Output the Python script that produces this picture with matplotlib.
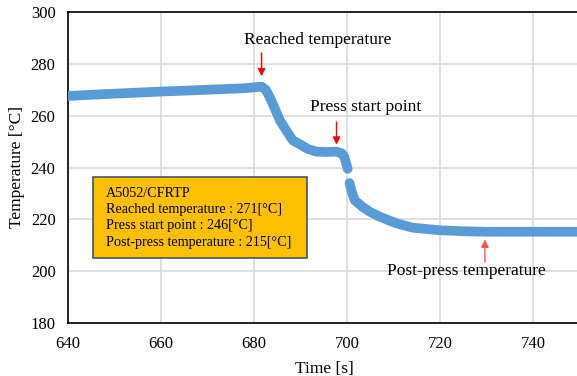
import numpy as np
import matplotlib.pyplot as plt
from matplotlib.patches import Rectangle

plt.rcParams['font.family'] = ['Liberation Serif', 'DejaVu Serif']

# temperature log (time in s, temperature in degC)
time_s = [640, 650, 660, 670, 678, 681.6, 682.5, 683.3, 684.5, 685.5, 687, 688.3,
          690, 691.5, 693.4, 695.5, 697.7, 698.8, 699.4, 700.1,
          700.3,
          700.5, 701.0, 701.6, 703.3, 704.8, 707, 710.5, 714, 719.8, 725, 729.8, 740, 750]
temp_c = [267.6, 268.5, 269.3, 270.0, 270.6, 271.2, 270.0, 267.3, 262.5, 258.3, 254, 250.5,
          248.8, 247.2, 246.1, 246.0, 246.1, 245.5, 244.0, 239.5,
          np.nan,
          234.0, 230.5, 227.4, 224.8, 223.0, 221.0, 218.5, 216.8, 215.8, 215.4, 215.2, 215.2, 215.2]

reached_t, reached_temp = 681.6, 271
press_t, press_temp = 697.7, 246
post_t, post_temp = 729.6, 215

box_lines = ["A5052/CFRTP",
             "Reached temperature : 271[°C]",
             "Press start point : 246[°C]",
             "Post-press temperature : 215[°C]"]

fig = plt.figure(figsize=(5.77, 3.76), dpi=100)
ax = fig.add_axes([68 / 577, 1 - 323 / 376, 1 - 68 / 577 + 0.005, (323 - 12) / 376])

ax.plot(time_s, temp_c, color='#5B9BD5', lw=7, solid_capstyle='round',
        solid_joinstyle='round', zorder=3)

ax.set_xlim(640, 750)
ax.set_ylim(180, 300)
ax.set_xticks(np.arange(640, 741, 20))
ax.set_yticks(np.arange(180, 301, 20))
ax.grid(True, color='#D9D9D9', lw=1.2)
ax.set_axisbelow(True)
ax.tick_params(length=0, labelsize=12, pad=9)
for s in ax.spines.values():
    s.set_color('black')
    s.set_linewidth(1.2)

ax.set_xlabel("Time [s]", fontsize=12.5, labelpad=7)
ax.set_ylabel("Temperature [°C]", fontsize=12.5, labelpad=4)

arrow = dict(arrowstyle='-|>', color='red', lw=1, mutation_scale=11, shrinkA=0, shrinkB=0)
ax.annotate("", xy=(reached_t, 275.2), xytext=(reached_t, 284.2), arrowprops=arrow)
ax.text(693.6, 289.2, "Reached temperature", ha='center', va='center', fontsize=12.5)

ax.annotate("", xy=(press_t, 248.8), xytext=(press_t, 257.6), arrowprops=arrow)
ax.text(704, 263.3, "Press start point", ha='center', va='center', fontsize=12.5)

ax.annotate("", xy=(post_t, 212.2), xytext=(post_t, 203.5),
            arrowprops=dict(arrow, color='#FF5050'))
ax.text(725.6, 200, "Post-press temperature", ha='center', va='center', fontsize=12.5)

ax.add_patch(Rectangle((645.4, 204.9), 45.9, 31.4, facecolor='#FFC000',
                       edgecolor='#44546A', lw=1.2, zorder=4))
for i, line in enumerate(box_lines):
    ax.text(648.1, 230.1 - i * 6.3, line, ha='left', va='center', fontsize=10.2, zorder=5)

fig.savefig("out.png", dpi=100)
